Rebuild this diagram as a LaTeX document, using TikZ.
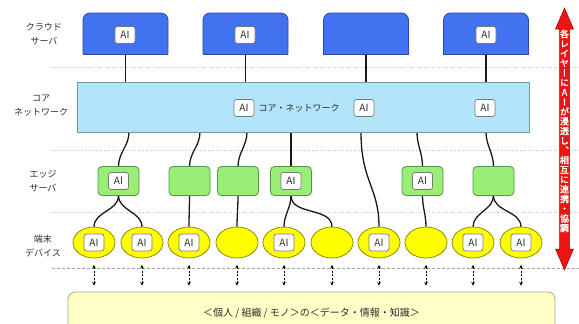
\documentclass[tikz,border=0pt]{standalone}
\usepackage{fontspec}
\setmainfont{Noto Sans CJK JP}
\newfontfamily\vertfont[RawFeature=+vert,AutoFakeBold=2.5]{Noto Sans CJK JP}
\usetikzlibrary{positioning,calc,arrows.meta,shapes.geometric,backgrounds}

\definecolor{cloudblue}{RGB}{66,114,240}
\definecolor{clouddark}{RGB}{40,72,170}
\definecolor{corefill}{RGB}{178,229,250}
\definecolor{coredark}{RGB}{120,150,170}
\definecolor{edgefill}{RGB}{153,238,119}
\definecolor{edgedark}{RGB}{80,150,60}
\definecolor{devfill}{RGB}{255,255,0}
\definecolor{devdark}{RGB}{140,140,0}
\definecolor{datafill}{RGB}{255,255,200}
\definecolor{datadark}{RGB}{170,170,130}
\definecolor{aigray}{RGB}{120,120,120}
\definecolor{txtgray}{RGB}{45,45,45}
\definecolor{sepgray}{RGB}{195,195,195}
\definecolor{dashgray}{RGB}{160,165,175}
\definecolor{arrowred}{RGB}{238,20,20}
\definecolor{arrowdark}{RGB}{170,0,0}

\tikzset{
  sep/.style={draw=sepgray, line width=0.6pt, dotted},
  sepdash/.style={draw=dashgray, line width=0.7pt, dash pattern=on 3pt off 2pt},
  layer/.style={align=center, font=\fontsize{9}{14}\selectfont, text=txtgray, inner sep=0pt},
  txt/.style={font=\fontsize{9}{11}\selectfont, text=txtgray, inner sep=0pt},
  cloudbox/.style={fill=cloudblue, rounded corners=7pt,
    minimum width=85pt, minimum height=41pt, inner sep=0pt, outer sep=0pt},
  cloudline/.style={draw=clouddark, line width=0.8pt},
  corebox/.style={draw=coredark, fill=corefill, line width=0.8pt,
    minimum width=452pt, minimum height=50pt, inner sep=0pt, outer sep=0pt},
  edgebox/.style={draw=edgedark, fill=edgefill, line width=0.8pt, rounded corners=4pt,
    minimum width=41pt, minimum height=29pt, inner sep=0pt, outer sep=0pt},
  device/.style={ellipse, draw=devdark, fill=devfill, line width=0.8pt,
    minimum width=42pt, minimum height=31pt, inner sep=0pt, outer sep=0pt},
  ai/.style={draw=aigray, fill=white, line width=0.7pt, rounded corners=2.5pt,
    minimum width=20pt, minimum height=17pt, inner sep=0pt,
    font=\fontsize{10}{10}\selectfont, text=txtgray},
  databox/.style={draw=datadark, fill=datafill, line width=0.8pt, rounded corners=7pt,
    minimum width=487pt, minimum height=42pt, inner sep=0pt,
    font=\fontsize{10}{12}\selectfont, text=txtgray},
  wire/.style={draw=black!90, line width=1.3pt, line cap=round},
  dataarrow/.style={{Stealth[length=3.5pt,width=3.5pt]}-{Stealth[length=3.5pt,width=3.5pt]},
    line width=0.9pt, dash pattern=on 2pt off 1.5pt},
  redarrow/.style={fill=arrowred, draw=arrowdark, line width=0.5pt},
  msgtxt/.style={align=center, inner sep=0pt, text=white,
    font=\vertfont\bfseries\fontsize{9}{9.7}\selectfont}
}

\begin{document}
\begin{tikzpicture}[x=1pt,y=-1pt]
        
        \useasboundingbox (0,0) rectangle (579,324);
        \clip (0,0) rectangle (579,324);

        % layer names
        \node[layer] (lcloud) at (44,34) {クラウド\\サーバ};
        \node[layer] (lcore) at (41,106) {コア\\ネットワーク};
        \node[layer] (ledge) at (43,181) {エッジ\\サーバ};
        \node[layer] (ldev) at (43,246) {端末\\デバイス};

        % cloud servers
        \foreach \x [count=\i] in {125.5,245.5,366,486}
        {
            \node[cloudbox] (s\i) at (\x,33.5) {};
            \fill[cloudblue] (s\i.west) rectangle (s\i.south east);
            \draw[cloudline, rounded corners=7pt] (s\i.south west) |- (s\i.north) -| (s\i.south east);
            \draw[cloudline, line cap=rect] (s\i.south west) -- (s\i.south east);
        }

        % core network
        \node[corebox] (core) at (303,107) {};
        \foreach \x [count=\i] in {129,200,247,291,361,417,486}
            \coordinate (k\i) at (\x,132);

        % edge servers and devices
        \foreach \x [count=\i] in {118.5,189.5,238,291,422.5,493.5}
            \node[edgebox] (e\i) at (\x,181) {};
        \foreach \x [count=\i] in {94,142,189,237,284,332,379,426,473,521}
            \node[device] (d\i) at (\x,242.5) {};

        % data
        \node[databox] (data) at (311.5,313) {＜個人 / 組織 / モノ＞の＜データ・情報・知識＞};

        \begin{pgfonlayer}{background}
        % layer separators
        \foreach \y in {67,150,212}
            \draw[sep] (52,\y) -- (579,\y);
        \draw[sepdash] (52,268) -- (579,268);

        % links
        \foreach \i in {1,...,4}
            \draw[wire] (s\i.south) -- (s\i.south |- core.north);
        \foreach \a/\b in {k1/e1,k2/e2,k3/e3,k4/e4,k6/e5,k7/e6}
            \draw[wire] (\a) to[out=-90,in=90] (\b.north);
        \draw[wire] (k5) .. controls +(0,50) and +(0,-40) .. (d7.north);
        \foreach \a/\b in {e1/d1,e1/d2,e2/d3,e3/d4,e4/d5,e4/d6,e5/d8,e6/d9,e6/d10}
            \draw[wire] (\a.south) to[out=-90,in=90] (\b.north);
        \end{pgfonlayer}

        % AI
        \node[ai] (as1) at (125,35) {AI};
        \node[ai] (as2) at (245,35) {AI};
        \node[ai] (as4) at (486,35) {AI};
        \node[ai] (ac1) at (244,108) {AI};
        \node[txt, right=4pt of ac1] (coretxt) {コア・ネットワーク};
        \node[ai] (ac2) at (364,108) {AI};
        \node[ai] (ac3) at (485,108) {AI};
        \foreach \i in {1,4,5}
            \node[ai] (ae\i) at (e\i) {AI};
        \foreach \i in {1,2,3,5,7,9,10}
            \node[ai] (ad\i) at (d\i) {AI};

        % device <-> data
        \foreach \i in {1,...,10}
            \draw[dataarrow] ([yshift=-7pt]d\i.south) -- ([yshift=6pt]d\i.south |- data.north);

        % AI everywhere
        \filldraw[redarrow] (564.5,8) -- (573.5,29) -- (569.5,29) -- (569.5,249) -- (573.5,249)
            -- (564.5,270) -- (555.5,249) -- (559.5,249) -- (559.5,29) -- (555.5,29) -- cycle;
        \node[msgtxt] (msg) at (564.5,131) {各\\レ\\イ\\ヤ\\ー\\に\\A\\I\\が\\浸\\透\\し\\、\\相\\互\\に\\連\\携\\・\\協\\調};
        
\end{tikzpicture}
\end{document}
